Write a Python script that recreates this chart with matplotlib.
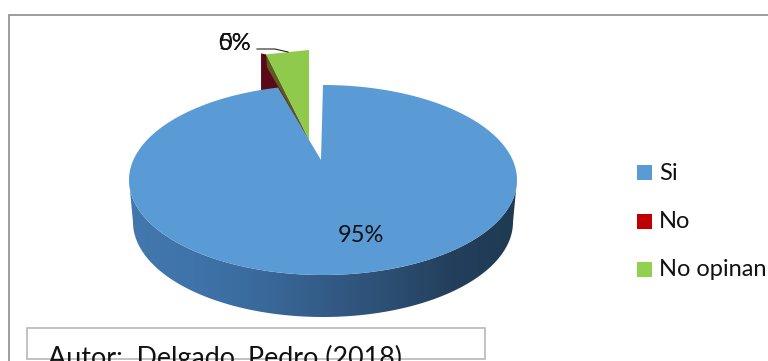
import numpy as np
import matplotlib
matplotlib.use("Agg")
import matplotlib.pyplot as plt
from matplotlib.patches import Polygon, Rectangle
from matplotlib.colors import LinearSegmentedColormap

categories = ["Si", "No", "No opinan"]
shares = [95, 0, 5]
share_labels = ["95%", "0%", "5%"]
face_colors = ["#5b9bd5", "#c00000", "#92d050"]

W, H = 768, 361
plt.rcParams["font.family"] = ["Lato", "DejaVu Sans"]
fig = plt.figure(figsize=(W / 100, H / 100), dpi=100)
ax = fig.add_axes([0, 0, 1, 1])
ax.set_xlim(0, W)
ax.set_ylim(H, 0)
ax.axis("off")

# Outer chart frame, running past the right and lower edges
ax.add_patch(Rectangle((8.5, 14.5), 800, 400, fc="white", ec="#8c8c8c", lw=1.2, zorder=0))

# Pie geometry
cx, cy, rx, ry = 323, 180, 194, 95
depth = 42
base_rx = 190
hub = (321, 160)
total = sum(shares)
small_hub = (309, 140)
small_rx, small_ry = 139, 90
near_edge_x = 278


def rim(frac, radius=rx, y0=cy):
    a = 2 * np.pi * frac
    return cx + radius * np.sin(a), y0 - ry * np.cos(a)


# Side wall of the large slice, shaded from left to right
t = np.linspace(0.25, 0.75, 200)
top = np.array([rim(f) for f in t])
bottom = np.array([rim(f, base_rx, cy + depth) for f in t])
wall = np.vstack([top, bottom[::-1]])
shade = LinearSegmentedColormap.from_list(
    "wall", ["#4378ae", "#3f74aa", "#3a6a9c", "#345c88", "#2c4f73", "#243f5c", "#1f3a52"])
grad = ax.imshow(np.linspace(0, 1, 256)[None, :], cmap=shade, aspect="auto",
                 extent=[cx - rx, cx + rx, cy + ry + depth, cy], zorder=1)
grad.set_clip_path(Polygon(wall, closed=True, transform=ax.transData))
ax.set_xlim(0, W)
ax.set_ylim(H, 0)

# Top face of the large slice, clockwise from twelve o'clock; perspective
# pushes its cut edge toward the hub, so the rim continues up to that edge
end = shares[0] / total
edge_frac = 1 - np.arcsin((cx - near_edge_x) / rx) / (2 * np.pi)
arc = np.array([rim(f) for f in np.linspace(0, end, 300)])
rim_fill = np.array([rim(f) for f in np.linspace(end, edge_frac, 30)])
ax.add_patch(Polygon(np.vstack([[hub], arc, rim_fill]), closed=True,
                     fc=face_colors[0], ec="none", zorder=2))

# Exploded small slices sit behind the large one
start = 1 - shares[2] / total
a0 = 2 * np.pi * start
g_left = (small_hub[0] + small_rx * np.sin(a0), small_hub[1] - small_ry * np.cos(a0))
g_right = (small_hub[0], small_hub[1] - small_ry)

ax.add_patch(Polygon([(g_left[0] - 5, g_left[1] - 1), (g_left[0] - 5, 92), (near_edge_x, 92), small_hub, g_left],
                     closed=True, fc="#5a0a16", ec="none", zorder=1.5))
ax.add_patch(Polygon([g_left, small_hub, (g_left[0] + 1, g_left[1] + 13)],
                     closed=True, fc="#5f5a22", ec="none", zorder=1.6))
ax.add_patch(Polygon([small_hub, g_left, g_right], closed=True,
                     fc="#8fca4c", ec="none", zorder=1.7))

# Value labels; the two small slices share one leader line
ax.text(361, 236, share_labels[0], ha="center", va="center", fontsize=17, color="#111111", zorder=3)
ax.text(235, 44, share_labels[1], ha="center", va="center", fontsize=17, color="#111111", zorder=3)
ax.text(235, 44, share_labels[2], ha="center", va="center", fontsize=17, color="#111111", zorder=3)
ax.plot([257, 275, 288], [49, 49, 52], color="#222222", lw=0.8, zorder=3)

# Legend, running past the right edge of the canvas
for name, color, ly in zip(categories, face_colors, [172, 221, 269]):
    ax.add_patch(Rectangle((637, ly - 7.5), 15, 15, fc=color, ec="none", zorder=3))
    ax.text(659, ly + 1, name, ha="left", va="center", fontsize=17, color="#111111", zorder=3)

# Source caption box, its text cut by the lower border
box = Rectangle((27, 328), 458, 31, fc="white", ec="#b8b8b8", lw=1.2, zorder=3)
ax.add_patch(box)
caption = ax.text(48, 366, "Autor:  Delgado, Pedro (2018)", ha="left", va="baseline",
                  fontsize=19.4, color="#111111", zorder=4)
caption.set_clip_path(box)

fig.savefig("out.png", dpi=100)
